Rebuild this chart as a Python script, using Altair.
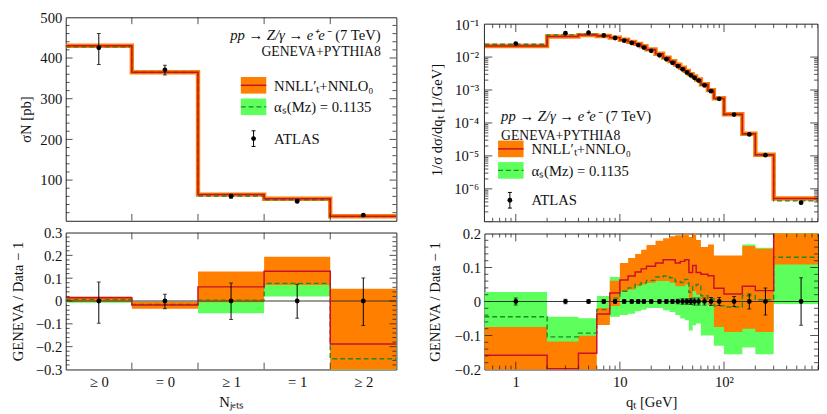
import altair as alt
import pandas as pd

# ---------------- data: left (N_jets) ----------------
NJ_LABELS = ["≥ 0", "= 0", "≥ 1", "= 1", "≥ 2"]
NJ_EDGES = [0, 1, 2, 3, 4, 5]
NJ_CENTERS = [0.5, 1.5, 2.5, 3.5, 4.5]
NJ_DATA = [425.0, 371.0, 60.5, 48.0, 13.7]
NJ_DATA_ERR_UP = [35.0, 11.0, 4.8, 3.5, 1.4]
NJ_DATA_ERR_DN = [41.0, 12.6, 4.9, 3.6, 1.5]
NJ_NNLL = [430.0, 365.0, 64.4, 54.2, 11.1]
NJ_ALPHAS = [427.5, 364.5, 60.8, 51.7, 10.2]

NJ_R_NNLL = [0.014, -0.017, 0.062, 0.130, -0.188]
NJ_R_NNLL_LO = [-0.003, -0.034, -0.005, 0.070, -0.430]
NJ_R_NNLL_HI = [0.020, -0.003, 0.129, 0.194, 0.054]
NJ_R_ALPHAS = [0.006, -0.015, 0.004, 0.077, -0.253]
NJ_R_ALPHAS_LO = [-0.008, -0.026, -0.054, 0.020, -0.340]
NJ_R_ALPHAS_HI = [0.012, -0.006, 0.060, 0.130, -0.160]
NJ_R_ERR_UP = [0.083, 0.030, 0.079, 0.073, 0.101]
NJ_R_ERR_DN = [0.097, 0.034, 0.081, 0.076, 0.107]

# ---------------- data: right (q_T) ----------------
QT_EDGES = [0, 2, 4, 6, 8, 10, 12, 14, 16, 18, 22, 26, 30, 34, 38, 42, 46, 50, 54,
            60, 70, 80, 100, 150, 200, 300, 800]
QT_CENTERS = [1, 3, 5, 7, 9, 11, 13, 15, 17, 20, 24, 28, 32, 36, 40, 44, 48, 52, 57,
              65, 75, 90, 125, 175, 250, 550]
QT_DATA = [0.0258, 0.0530, 0.0550, 0.0454, 0.0380, 0.0316, 0.0270, 0.0232, 0.0195,
           0.0155, 0.0113, 0.0086, 0.0067, 0.0053, 0.00425, 0.0034, 0.0028, 0.00235,
           0.00193, 0.00138, 0.00092, 0.00054, 0.00018, 0.000045, 0.0000105, 0.00000038]
QT_NNLL = [0.0217, 0.0424, 0.0466, 0.0437, 0.0390, 0.0336, 0.0290, 0.0252, 0.0214,
           0.0171, 0.01258, 0.00966, 0.00752, 0.00590, 0.00475, 0.00382, 0.00304, 0.00260,
           0.00209, 0.00149, 0.00099, 0.000561, 0.000184, 0.0000470, 0.00001084, 0.00000051]
QT_ALPHAS = [0.0246, 0.0474, 0.0499, 0.0443, 0.0384, 0.0325, 0.0281, 0.0244, 0.0206,
             0.0165, 0.01211, 0.00925, 0.00717, 0.00561, 0.00449, 0.00362, 0.00288, 0.00245,
             0.00203, 0.00140, 0.000927, 0.000533, 0.000177, 0.0000458, 0.00001055, 0.00000043]

QT_R_NNLL = [-0.158, -0.198, -0.152, -0.037, 0.025, 0.063, 0.075, 0.087, 0.096, 0.104,
             0.113, 0.123, 0.123, 0.113, 0.118, 0.123, 0.085, 0.106, 0.085, 0.080, 0.076,
             0.039, 0.022, 0.045, 0.032, 0.340]
QT_R_NNLL_LO = [-0.250, -0.280, -0.203, -0.069, -0.013, 0.030, 0.035, 0.045, 0.050, 0.055,
                0.060, 0.060, 0.055, 0.045, 0.045, 0.050, 0.010, 0.030, 0.020, 0.000, -0.010,
                -0.075, -0.090, -0.080, -0.090, 0.109]
QT_R_NNLL_HI = [-0.075, -0.118, -0.101, -0.019, 0.061, 0.113, 0.128, 0.140, 0.152, 0.166,
                0.179, 0.186, 0.192, 0.195, 0.195, 0.205, 0.190, 0.203, 0.181, 0.160, 0.168,
                0.135, 0.135, 0.163, 0.155, 0.600]
QT_R_ALPHAS = [-0.045, -0.104, -0.093, -0.024, 0.010, 0.030, 0.040, 0.050, 0.055, 0.062,
               0.072, 0.075, 0.070, 0.059, 0.056, 0.065, 0.027, 0.044, 0.050, 0.017, 0.008,
               -0.013, -0.016, 0.017, 0.005, 0.130]
QT_R_ALPHAS_LO = [-0.118, -0.168, -0.137, -0.062, -0.045, -0.040, -0.036, -0.029, -0.024,
                  -0.019, -0.019, -0.026, -0.031, -0.040, -0.050, -0.055, -0.085, -0.070,
                  -0.065, -0.100, -0.100, -0.130, -0.155, -0.135, -0.155, -0.007]
QT_R_ALPHAS_HI = [0.028, -0.045, -0.049, 0.016, 0.072, 0.090, 0.100, 0.110, 0.115, 0.125,
                  0.135, 0.140, 0.135, 0.125, 0.120, 0.130, 0.100, 0.110, 0.110, 0.090, 0.090,
                  0.100, 0.110, 0.168, 0.158, 0.270]
QT_R_ERR = [0.010, 0.007, 0.005, 0.005, 0.005, 0.005, 0.005, 0.005, 0.005, 0.005, 0.005,
            0.006, 0.006, 0.007, 0.008, 0.008, 0.009, 0.010, 0.010, 0.010, 0.012, 0.012,
            0.015, 0.022, 0.040, 0.070]

QT_MIN, QT_MAX = 0.5, 800
RT_YMIN_EXP, RT_YMAX_EXP = -7, -1

# ---------------- style / layout ----------------
FONT = "Liberation Serif"
ORANGE = "#ff8000"
GREEN = "#5cff5c"
RED = "#c8102e"
DGREEN = "#1f8a1f"
AXC = "#222222"

W_L, H_LT, H_LR = 338, 208, 140
W_R, H_RT_PLOT, H_RR = 341, 202, 139
RT_OFF = 7                      # right top frame starts this far below the left one
H_RT = H_RT_PLOT + RT_OFF
RT_DECADE = H_RT_PLOT / (RT_YMAX_EXP - RT_YMIN_EXP)


def one():
    return pd.DataFrame({"a": [0]})


def clipx(edges, lo_clip):
    return [max(e, lo_clip) for e in edges] if lo_clip is not None else list(edges)


def step_frame(edges, values, lo_clip=None):
    return pd.DataFrame({"x": clipx(edges, lo_clip), "y": list(values) + [values[-1]]})


def band_frame(edges, lo, hi, lo_clip=None):
    return pd.DataFrame({"x": clipx(edges, lo_clip),
                         "lo": list(lo) + [lo[-1]], "hi": list(hi) + [hi[-1]]})


class Panel:
    def __init__(self, xs, ys, xa, ya, W, H, top=0):
        self.xs, self.ys, self.xa, self.ya, self.W, self.H, self.top = xs, ys, xa, ya, W, H, top

    def X(self, f):
        return alt.X(f, scale=self.xs, axis=self.xa)

    def Y(self, f):
        return alt.Y(f, scale=self.ys, axis=self.ya)


def rule(**enc):
    return alt.Chart(one()).mark_rule(color=AXC, strokeWidth=1).encode(**enc)


def frame_layers(p):
    t = p.top
    return [rule(x=alt.value(0), x2=alt.value(p.W), y=alt.value(t)),
            rule(x=alt.value(0), x2=alt.value(p.W), y=alt.value(p.H)),
            rule(x=alt.value(0), y=alt.value(t), y2=alt.value(p.H)),
            rule(x=alt.value(p.W), y=alt.value(t), y2=alt.value(p.H))]


def tick_layers(p, xmaj, xmin, ymaj, ymin, LM, Lm):
    out = []
    for vals, L in ((ymaj, LM), (ymin, Lm)):
        if not vals:
            continue
        d = pd.DataFrame({"t": vals})
        out.append(alt.Chart(d).mark_rule(color=AXC, strokeWidth=0.8, clip=True)
                   .encode(y=p.Y("t:Q"), x=alt.value(0), x2=alt.value(L)))
        out.append(alt.Chart(d).mark_rule(color=AXC, strokeWidth=0.8, clip=True)
                   .encode(y=p.Y("t:Q"), x=alt.value(p.W), x2=alt.value(p.W - L)))
    for vals, L in ((xmaj, LM), (xmin, Lm)):
        if not vals:
            continue
        d = pd.DataFrame({"t": vals})
        out.append(alt.Chart(d).mark_rule(color=AXC, strokeWidth=0.8, clip=True)
                   .encode(x=p.X("t:Q"), y=alt.value(p.top), y2=alt.value(p.top + L)))
        out.append(alt.Chart(d).mark_rule(color=AXC, strokeWidth=0.8, clip=True)
                   .encode(x=p.X("t:Q"), y=alt.value(p.H), y2=alt.value(p.H - L)))
    return out


def points_layers(p, centers, vals, up, dn):
    d = pd.DataFrame({"x": centers, "y": vals,
                      "lo": [v - e for v, e in zip(vals, dn)],
                      "hi": [v + e for v, e in zip(vals, up)]})
    bars = alt.Chart(d).mark_rule(color="black", strokeWidth=1, clip=True).encode(
        x=p.X("x:Q"), y=p.Y("lo:Q"), y2="hi:Q")
    cap1 = alt.Chart(d).mark_tick(color="black", orient="horizontal", size=4, thickness=1,
                                  clip=True).encode(x=p.X("x:Q"), y=p.Y("lo:Q"))
    cap2 = alt.Chart(d).mark_tick(color="black", orient="horizontal", size=4, thickness=1,
                                  clip=True).encode(x=p.X("x:Q"), y=p.Y("hi:Q"))
    pts = alt.Chart(d).mark_circle(color="black", size=24, opacity=1, clip=True).encode(
        x=p.X("x:Q"), y=p.Y("y:Q"))
    return [bars, cap1, cap2, pts]


def model_top_layers(p, edges, nnll, alphas, lo_clip=None):
    fr = step_frame(edges, nnll, lo_clip)
    fa = step_frame(edges, alphas, lo_clip)
    band = alt.Chart(fr).mark_line(interpolate="step-after", color=ORANGE, strokeWidth=4.5,
                                   strokeCap="butt", clip=True).encode(x=p.X("x:Q"), y=p.Y("y:Q"))
    ga = alt.Chart(fa).mark_line(interpolate="step-after", color=DGREEN, strokeWidth=1.4,
                                 strokeDash=[5, 3], clip=True).encode(x=p.X("x:Q"), y=p.Y("y:Q"))
    rl = alt.Chart(fr).mark_line(interpolate="step-after", color=RED, strokeWidth=1.5,
                                 clip=True).encode(x=p.X("x:Q"), y=p.Y("y:Q"))
    return [band, ga, rl]


def ratio_layers(p, edges, r, rlo, rhi, a, alo, ahi, lo_clip=None):
    gb = alt.Chart(band_frame(edges, alo, ahi, lo_clip)).mark_area(
        interpolate="step-after", color=GREEN, opacity=1, clip=True).encode(
        x=p.X("x:Q"), y=p.Y("lo:Q"), y2="hi:Q")
    ob = alt.Chart(band_frame(edges, rlo, rhi, lo_clip)).mark_area(
        interpolate="step-after", color=ORANGE, opacity=1, clip=True).encode(
        x=p.X("x:Q"), y=p.Y("lo:Q"), y2="hi:Q")
    zero = alt.Chart(one()).mark_rule(color="#333333", strokeWidth=1).encode(y=p.Y("a:Q"))
    ga = alt.Chart(step_frame(edges, a, lo_clip)).mark_line(
        interpolate="step-after", color=DGREEN, strokeWidth=1.4, strokeDash=[5, 3],
        clip=True).encode(x=p.X("x:Q"), y=p.Y("y:Q"))
    rl = alt.Chart(step_frame(edges, r, lo_clip)).mark_line(
        interpolate="step-after", color=RED, strokeWidth=1.5, clip=True).encode(
        x=p.X("x:Q"), y=p.Y("y:Q"))
    return [gb, ob, zero, ga, rl]


def txt(x, y, s, align="left", size=15, style="normal"):
    return alt.Chart(one()).mark_text(font=FONT, fontSize=size, align=align, baseline="middle",
                                      fontStyle=style, color="#111111").encode(
        x=alt.value(x), y=alt.value(y), text=alt.value(s))


def legend_layers(bx, by, tx, atl_x, atl_y):
    L = []
    bw = 26
    L.append(alt.Chart(one()).mark_rect(color=ORANGE).encode(
        x=alt.value(bx), x2=alt.value(bx + bw), y=alt.value(by), y2=alt.value(by + 17)))
    L.append(alt.Chart(one()).mark_rule(color=RED, strokeWidth=1.5).encode(
        x=alt.value(bx), x2=alt.value(bx + bw), y=alt.value(by + 8.5)))
    L.append(alt.Chart(one()).mark_rect(color=GREEN).encode(
        x=alt.value(bx), x2=alt.value(bx + bw), y=alt.value(by + 22), y2=alt.value(by + 39)))
    L.append(alt.Chart(one()).mark_rule(color=DGREEN, strokeWidth=1.4, strokeDash=[5, 3]).encode(
        x=alt.value(bx), x2=alt.value(bx + bw), y=alt.value(by + 30.5)))
    L.append(txt(tx, by + 9, "NNLL′ₜ+NNLO₀"))
    L.append(txt(tx, by + 31, "αₛ(Mᴢ) = 0.1135"))
    L.append(alt.Chart(one()).mark_rule(color="black", strokeWidth=1).encode(
        x=alt.value(atl_x), y=alt.value(atl_y - 8), y2=alt.value(atl_y + 8)))
    for dy in (-8, 8):
        L.append(alt.Chart(one()).mark_rule(color="black", strokeWidth=1).encode(
            x=alt.value(atl_x - 2), x2=alt.value(atl_x + 2), y=alt.value(atl_y + dy)))
    L.append(alt.Chart(one()).mark_circle(color="black", size=24, opacity=1).encode(
        x=alt.value(atl_x), y=alt.value(atl_y)))
    L.append(txt(tx, atl_y, "ATLAS"))
    return L


ratio_lbl = "datum.value == 0 ? '0' : format(datum.value, '.1f')"

# ---------------- scales ----------------
xL = alt.Scale(domain=[0, 5], nice=False, zero=False)
yLT = alt.Scale(domain=[0, 500], nice=False, zero=False)
yLR = alt.Scale(domain=[-0.3, 0.3], nice=False, zero=False)
xR = alt.Scale(type="log", domain=[QT_MIN, QT_MAX], nice=False)
# the right top frame starts RT_OFF px below its group top: extend the log domain accordingly
yRT = alt.Scale(type="log", nice=False,
                domain=[10.0 ** RT_YMIN_EXP, 10.0 ** (RT_YMAX_EXP + RT_OFF / RT_DECADE)])
yRR = alt.Scale(domain=[-0.2, 0.2], nice=False, zero=False)

# ---------------- left top ----------------
yax_LT = alt.Axis(title="σN [pb]", values=[100, 200, 300, 400, 500], labelPadding=4,
                  titleX=-41, titleBaseline="middle")
pLT = Panel(xL, yLT, None, yax_LT, W_L, H_LT)
lt_layers = model_top_layers(pLT, NJ_EDGES, NJ_NNLL, NJ_ALPHAS)
lt_layers += points_layers(pLT, NJ_CENTERS, NJ_DATA, NJ_DATA_ERR_UP, NJ_DATA_ERR_DN)
lt_layers += [txt(270, 18, "pp → Z/γ → e⁺e⁻", align="right", style="italic"),
              txt(322, 18, "(7 TeV)", align="right"),
              txt(322, 36, "GENEVA+PYTHIA8", align="right", size=14)]
lt_layers += legend_layers(179, 61, 213, 192, 124)
lt_layers += tick_layers(pLT, [1, 2, 3, 4], [],
                         [100, 200, 300, 400], [v for v in range(20, 500, 20) if v % 100], 7, 4)
left_top = alt.layer(*lt_layers).properties(width=W_L, height=H_LT)

# ---------------- left ratio ----------------
nj_expr = "[" + ",".join("'%s'" % s for s in NJ_LABELS) + "][floor(datum.value)]"
xax_LR = alt.Axis(title="Nⱼₑₜₛ", values=NJ_CENTERS, labelExpr=nj_expr, labelPadding=5,
                  titleY=33, titleBaseline="middle")
yax_LR = alt.Axis(title="GENEVA / Data − 1", values=[-0.3, -0.2, -0.1, 0, 0.1, 0.2, 0.3],
                  labelExpr=ratio_lbl, labelPadding=4, titleX=-49, titleBaseline="middle")
pLR = Panel(xL, yLR, xax_LR, yax_LR, W_L, H_LR)
lr_layers = ratio_layers(pLR, NJ_EDGES, NJ_R_NNLL, NJ_R_NNLL_LO, NJ_R_NNLL_HI,
                         NJ_R_ALPHAS, NJ_R_ALPHAS_LO, NJ_R_ALPHAS_HI)
lr_layers += points_layers(pLR, NJ_CENTERS, [0.0] * len(NJ_CENTERS), NJ_R_ERR_UP, NJ_R_ERR_DN)
lr_layers += tick_layers(pLR, [1, 2, 3, 4], [], [-0.2, -0.1, 0, 0.1, 0.2],
                         [round(-0.3 + 0.02 * i, 2) for i in range(31) if i % 5], 7, 4)
left_ratio = alt.layer(*lr_layers).properties(width=W_L, height=H_LR)

# ---------------- right top ----------------
x_major = [1, 10, 100]
x_minor = [0.6, 0.7, 0.8, 0.9] + [k * m for m in (1, 10, 100) for k in range(2, 10) if k * m <= 800]
y_major_log = [10.0 ** e for e in range(RT_YMIN_EXP, RT_YMAX_EXP)]
y_minor_log = [k * 10.0 ** e for e in range(RT_YMIN_EXP, RT_YMAX_EXP - 1) for k in range(2, 10)]
exp_expr = "'10' + ['⁻¹','⁻²','⁻³','⁻⁴','⁻⁵','⁻⁶','⁻⁷'][round(-log(datum.value)/LN10) - 1]"
yax_RT = alt.Axis(title="1/σ dσ/dqₜ [1/GeV]", values=[10.0 ** e for e in range(-6, 0)],
                  labelExpr=exp_expr, labelPadding=6, titleX=-49, titleBaseline="middle")
pRT = Panel(xR, yRT, None, yax_RT, W_R, H_RT, top=RT_OFF)
rt_layers = model_top_layers(pRT, QT_EDGES, QT_NNLL, QT_ALPHAS, lo_clip=QT_MIN)
rt_layers += [alt.Chart(pd.DataFrame({"x": QT_CENTERS, "y": QT_DATA})).mark_circle(
    color="black", size=24, opacity=1, clip=True).encode(x=pRT.X("x:Q"), y=pRT.Y("y:Q"))]
rt_layers += [txt(17, 101, "pp → Z/γ → e⁺e⁻", style="italic"),
              txt(124, 101, "(7 TeV)"),
              txt(17, 121, "GENEVA+PYTHIA8", size=14)]
rt_layers += legend_layers(14, 126, 48, 26, 187)
rt_layers += tick_layers(pRT, x_major, x_minor, y_major_log, y_minor_log, 8, 4)
rt_layers += frame_layers(pRT)
right_top = alt.layer(*rt_layers).properties(
    width=W_R, height=H_RT, view=alt.ViewBackground(stroke="transparent"))

# ---------------- right ratio ----------------
xax_RR = alt.Axis(title="qₜ [GeV]", values=x_major,
                  labelExpr="datum.value == 100 ? '10²' : format(datum.value, 'd')",
                  labelPadding=5, titleY=33, titleBaseline="middle")
yax_RR = alt.Axis(title="GENEVA / Data − 1", values=[-0.2, -0.1, 0, 0.1, 0.2],
                  labelExpr=ratio_lbl, labelPadding=4, titleX=-51, titleBaseline="middle")
pRR = Panel(xR, yRR, xax_RR, yax_RR, W_R, H_RR)
rr_layers = ratio_layers(pRR, QT_EDGES, QT_R_NNLL, QT_R_NNLL_LO, QT_R_NNLL_HI,
                         QT_R_ALPHAS, QT_R_ALPHAS_LO, QT_R_ALPHAS_HI, lo_clip=QT_MIN)
rr_layers += points_layers(pRR, QT_CENTERS, [0.0] * len(QT_CENTERS), QT_R_ERR, QT_R_ERR)
rr_layers += tick_layers(pRR, x_major, x_minor, [-0.1, 0, 0.1],
                         [round(-0.2 + 0.02 * i, 2) for i in range(21) if i % 5], 8, 4)
right_ratio = alt.layer(*rr_layers).properties(width=W_R, height=H_RR)

left_col = alt.vconcat(left_top, left_ratio, spacing=3)
right_col = alt.vconcat(right_top, right_ratio, spacing=3)

chart = alt.hconcat(left_col, right_col, spacing=30).properties(
    padding={"left": 2, "top": -3, "right": 0, "bottom": 0}
).configure_view(stroke=AXC, strokeWidth=1).configure_axis(
    labelFont=FONT, labelFontSize=15, labelColor="#111111", titleFont=FONT, titleFontSize=15,
    titleFontWeight="normal", titleColor="#111111", domain=False, ticks=False, tickSize=0,
    grid=False
)

chart.save("out.html", embed_options={"renderer": "svg", "actions": False})
